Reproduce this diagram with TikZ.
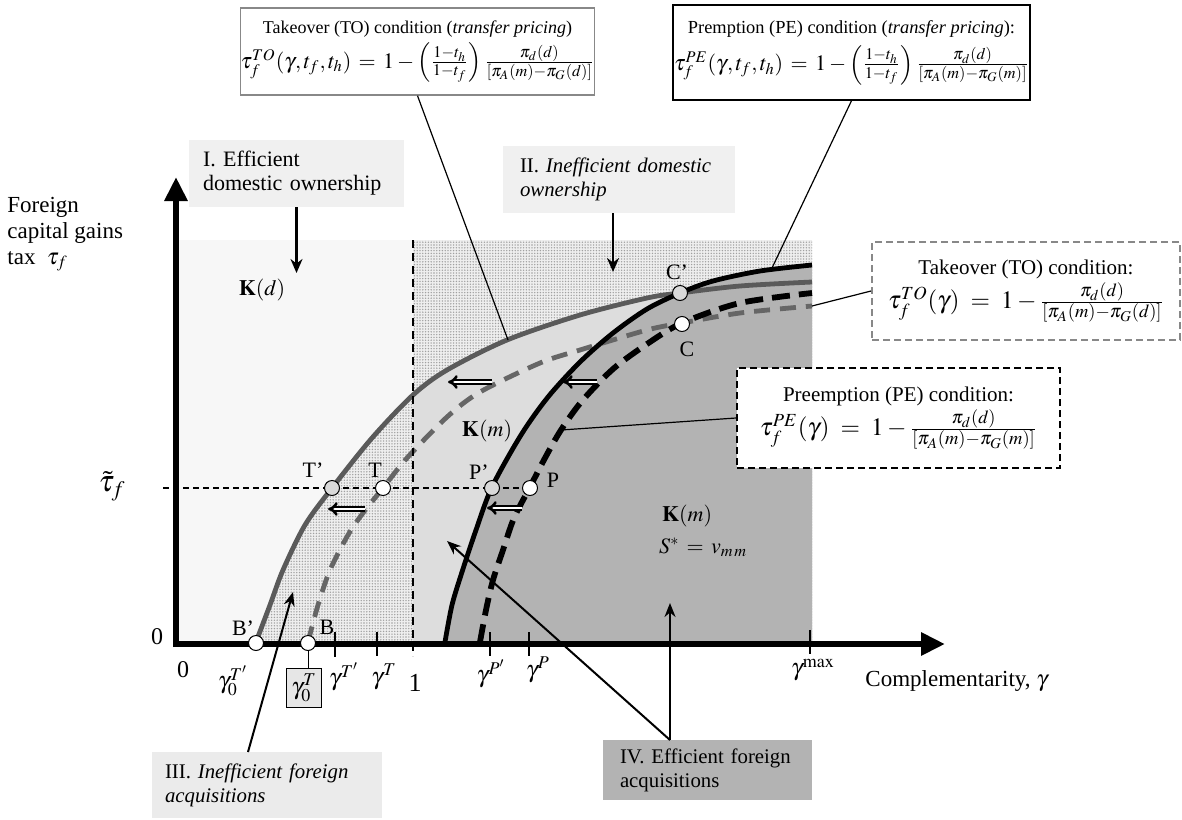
\documentclass[tikz,border=0pt]{standalone}
\usepackage{mathptmx}
\usepackage{fontspec}
\setmainfont{Liberation Serif}
\usetikzlibrary{arrows.meta,patterns.meta}

\definecolor{regI}{HTML}{F7F7F7}
\definecolor{boxI}{HTML}{F0F0F0}
\definecolor{dotbase}{HTML}{EEEEEE}
\definecolor{dotcol}{HTML}{A0A0A0}
\definecolor{lightreg}{HTML}{DDDDDD}
\definecolor{darkreg}{HTML}{B3B3B3}
\definecolor{curvegray}{HTML}{5A5A5A}
\definecolor{dashgray}{HTML}{666666}
\definecolor{boxIII}{HTML}{EBEBEB}
\definecolor{markgray}{HTML}{D9D9D9}
\definecolor{boxgray}{HTML}{888888}
\definecolor{gzbox}{HTML}{E6E6E6}

\tikzdeclarepattern{
  name=fdots,
  type=uncolored,
  bounding box={(-0.7pt,-0.7pt) and (0.7pt,0.7pt)},
  tile size={(1.4pt,1.4pt)},
  code={\fill (0pt,0pt) circle [radius=0.38pt];}
}

\tikzset{
  regbox/.style={inner ysep=2pt, align=left, font=\fontsize{10.4}{12}\selectfont},
  cond/.style={align=center, inner sep=0pt},
  mk/.style={circle, draw=black, line width=0.5pt, fill=white, minimum size=7.5pt, inner sep=0pt},
  mkg/.style={mk, fill=markgray},
  axisarr/.style={line width=3pt, -{Triangle[length=12pt,width=11pt]}},
  tickline/.style={line width=1pt},
  regarr/.style={line width=1.4pt, -{Stealth[length=7pt,width=6pt]}},
  ptr/.style={line width=1pt, -{Stealth[length=7pt,width=5.5pt]}},
  conn/.style={line width=0.6pt},
  dblarr/.style={line width=1.3pt, double distance=0.8pt, -{Implies}},
  glab/.style={font=\fontsize{12}{14}\selectfont, inner sep=0pt},
  ptlab/.style={font=\fontsize{11}{13}\selectfont, inner sep=0pt},
  gsol/.style={line width=2.4pt, curvegray},
  gdash/.style={line width=2.4pt, dashgray, dash pattern=on 8pt off 5pt},
  bsol/.style={line width=2.4pt, black},
  bdash/.style={line width=2.9pt, black, dash pattern=on 9pt off 4.5pt},
}

\begin{document}
\begin{tikzpicture}[x=0.5pt,y=-0.5pt]
\useasboundingbox (0,0) rectangle (1182,819);

% ---------- regions ----------
\fill[regI] (178,240) rectangle (413,642);
\begin{scope}
  \clip (413,240) rectangle (812,642);
  \fill[dotbase] (413,240) rectangle (812,642);
  \fill[pattern=fdots, pattern color=dotcol] (413,240) rectangle (812,642);
\end{scope}
\fill[lightreg] plot[smooth] coordinates {(256,642) (270,605) (283,570) (305,525) (332,488) (372,438) (413,395) (447,370) (507,340) (580,315) (647,298) (680,293) (740,286) (812,282)} -- (812,642) -- cycle;
\begin{scope}
  \clip (178,240) rectangle (413,642);
  \fill[dotbase] plot[smooth] coordinates {(256,642) (270,605) (283,570) (305,525) (332,488) (372,438) (413,395) (447,370) (507,340)} -- (507,642) -- cycle;
  \fill[pattern=fdots, pattern color=dotcol] plot[smooth] coordinates {(256,642) (270,605) (283,570) (305,525) (332,488) (372,438) (413,395) (447,370) (507,340)} -- (507,642) -- cycle;
\end{scope}
\fill[darkreg] plot[smooth] coordinates {(445,642) (452,605) (462,572) (476,530) (492,487) (521,435) (548,397) (580,362) (613,333) (647,309) (680,293) (713,281) (760,271) (812,265)} -- (812,642) -- cycle;

% ---------- curves ----------
\draw[gsol] plot[smooth] coordinates {(256,642) (270,605) (283,570) (305,525) (332,488) (372,438) (413,395) (447,370) (507,340) (580,315) (647,298) (680,293) (740,286) (812,282)};
\draw[gdash] plot[smooth] coordinates {(308,642) (318,605) (330,570) (348,535) (363,513) (383,488) (407,458) (447,417) (480,392) (540,363) (580,350) (647,330) (682,323) (740,313) (812,306)};
\draw[bsol] plot[smooth] coordinates {(445,642) (452,605) (462,572) (476,530) (492,487) (521,435) (548,397) (580,362) (613,333) (647,309) (680,293) (713,281) (760,271) (812,265)};
\draw[bdash] plot[smooth] coordinates {(480,642) (486,610) (493,580) (503,550) (514,518) (530,487) (545,458) (561,430) (582,401) (613,369) (647,344) (682,323) (740,303) (812,293)};

% connector end points on curves
\coordinate (gsA) at (508,340);
\coordinate (bsA) at (772,268);
\coordinate (gdA) at (812,306);
\coordinate (bdA) at (561,430);

% vertical dashed line at gamma = 1
\draw[line width=0.9pt, dash pattern=on 4pt off 2.5pt] (413,240) -- (413,656);

% tau tilde dashed line
\draw[line width=0.7pt, dash pattern=on 3pt off 2pt] (163,488) -- (530,488);

% double arrows
\draw[dblarr] (492,382) -- (448,382);
\draw[dblarr] (597,382) -- (563,382);
\draw[dblarr] (365,509) -- (328,509);
\draw[dblarr] (522,508) -- (487,508);

% ---------- axes ----------
\draw[axisarr] (176,647) -- (176,177);
\draw[axisarr] (173,644) -- (945,644);

% ticks
\draw[tickline] (335,632) -- (335,657);
\draw[tickline] (377,632) -- (377,656);
\draw[tickline] (490,632) -- (490,656);
\draw[tickline] (529,632) -- (529,656);
\draw[tickline] (810,630) -- (810,654);

% ---------- markers ----------
\node[mk]  (Bp) at (256,643) {};
\node[mk]  (B)  at (308,643) {};
\node[mkg] (Tp) at (332,488) {};
\node[mk]  (T)  at (383,488) {};
\node[mkg] (Pp) at (492,488) {};
\node[mk]  (P)  at (530,488) {};
\node[mkg] (Cp) at (680,293) {};
\node[mk]  (C)  at (682,324) {};

\node[ptlab] at (243,628) {B’};
\node[ptlab] at (327,627) {B};
\node[ptlab] at (313,470) {T’};
\node[ptlab] at (375,470) {T};
\node[ptlab] at (479,472) {P’};
\node[ptlab] at (553,480) {P};
\node[ptlab] at (677,272) {C’};
\node[ptlab] at (687,349) {C};

% ---------- axis labels ----------
\node[anchor=west, align=left, inner sep=0pt, font=\fontsize{11.5}{13}\selectfont] (ylab) at (7,234) {Foreign\\capital gains\\tax \ $\tau_f$};
\node[anchor=west, inner sep=0pt, font=\fontsize{11.5}{13}\selectfont] (xlab) at (865,681) {Complementarity, $\gamma$};
\node[glab] at (157,637) {0};
\node[glab] at (183,670) {0};
\node[glab, font=\fontsize{15}{17}\selectfont] at (112,486) {$\tilde{\tau}_f$};
\node[glab] at (233,681) {$\gamma_0^{T'}$};
\node[glab] at (344,677) {$\gamma^{T'}$};
\node[glab] at (384,677) {$\gamma^{T}$};
\node[glab, font=\fontsize{13}{15}\selectfont] at (415,683) {1};
\node[glab] at (491,674) {$\gamma^{P'}$};
\node[glab] at (538,670) {$\gamma^{P}$};
\node[glab] at (813,670) {$\gamma^{\max}$};
\node[draw, line width=0.5pt, fill=gzbox, minimum width=17.5pt, minimum height=19.5pt, inner sep=0pt, font=\fontsize{12}{14}\selectfont] (g0T) at (304,688) {$\gamma_0^{T}$};
\draw[line width=0.5pt] (B) -- (B |- g0T.north);

% ---------- region texts ----------
\node[font=\fontsize{11}{13}\selectfont] (Kd) at (262,290) {$\mathbf{K}(d)$};
\node[font=\fontsize{11}{13}\selectfont] (Km1) at (487,431) {$\mathbf{K}(m)$};
\node[font=\fontsize{11}{13}\selectfont, anchor=west] (Km2) at (655,516) {$\mathbf{K}(m)$};
\node[font=\fontsize{11}{13}\selectfont, anchor=west] (Sv) at (652,547) {$S^{*}\,=\,v_{m\,m}$};

% ---------- region boxes ----------
\node[regbox, font=\fontsize{11}{12}\selectfont, fill=boxI, text width=93.5pt, inner xsep=7pt, minimum height=33.5pt] (rI) at (296.5,173.5) {I. Efficient\\domestic ownership};
\node[regbox, fill=boxI, text width=99pt, inner xsep=8.5pt, minimum height=33.5pt] (rII) at (619,179.5) {II. \textit{Inefficient domestic}\\\textit{ownership}};
\node[regbox, fill=boxIII, text width=102pt, inner xsep=6.5pt, minimum height=33pt] (rIII) at (267,785) {III. \textit{Inefficient foreign}\\\textit{acquisitions}};
\node[regbox, fill=darkreg, text width=87.5pt, inner xsep=8.5pt, minimum height=30pt] (rIV) at (707.5,770) {IV. Efficient foreign\\acquisitions};

\coordinate (rIend) at (296.5,273);
\coordinate (rIIend) at (613,272);
\coordinate (rIIIstart) at (248,752);
\coordinate (rIIIend) at (293,592);
\coordinate (rIVstart) at (670,740);
\coordinate (rIVendA) at (447,541);
\coordinate (rIVendB) at (670,603);

\draw[regarr] (rI.south) -- (rIend);
\draw[regarr] (rII.south -| rIIend) -- (rIIend);
\draw[ptr] (rIIIstart) -- (rIIIend);
\draw[ptr] (rIVstart) -- (rIVendA);
\draw[ptr] (rIVstart) -- (rIVendB);

% ---------- condition boxes ----------
\node[cond, draw=boxgray, line width=0.7pt, fill=white, minimum width=169.5pt, minimum height=43.5pt] (TOTP) at (417.5,51.5)
  {{\fontsize{9}{11}\selectfont Takeover (TO) condition (\textit{transfer pricing})}\\[2pt]
   {\fontsize{11}{13}\selectfont $\tau_f^{TO}(\gamma,t_f,t_h)\,=\,1-\left(\frac{1-t_h}{1-t_f}\right)\frac{\pi_d(d)}{[\pi_A(m)-\pi_G(d)]}$}};
\node[cond, draw=black, line width=0.7pt, fill=white, minimum width=178.5pt, minimum height=47.5pt] (PETP) at (851.5,52.5)
  {{\fontsize{9.2}{11}\selectfont Premption (PE) condition (\textit{transfer pricing}):}\\[3pt]
   {\fontsize{11}{13}\selectfont $\tau_f^{PE}(\gamma,t_f,t_h)\,=\,1-\left(\frac{1-t_h}{1-t_f}\right)\frac{\pi_d(d)}{[\pi_A(m)-\pi_G(m)]}$}};
\node[cond, draw=boxgray, line width=1pt, dash pattern=on 3.5pt off 2pt, fill=white, minimum width=154pt, minimum height=49pt] (TOR) at (1026,291)
  {{\fontsize{10.5}{12}\selectfont Takeover (TO) condition:}\\[1pt]
   {\fontsize{12.5}{15}\selectfont $\tau_f^{TO}(\gamma)\;=\;1-\frac{\pi_d(d)}{[\pi_A(m)-\pi_G(d)]}$}};
\node[cond, draw=black, line width=1pt, dash pattern=on 3.5pt off 2pt, fill=white, minimum width=161.5pt, minimum height=50pt] (PER) at (898.5,418)
  {{\fontsize{10.5}{12}\selectfont Preemption (PE) condition:}\\[1pt]
   {\fontsize{12.5}{15}\selectfont $\tau_f^{PE}(\gamma)\;=\;1-\frac{\pi_d(d)}{[\pi_A(m)-\pi_G(m)]}$}};

\draw[conn] (TOTP.south) -- (gsA);
\draw[conn] (PETP.south) -- (bsA);
\draw[conn] (TOR.west) -- (gdA);
\draw[conn] (PER.west) -- (bdA);

\end{tikzpicture}
\end{document}
